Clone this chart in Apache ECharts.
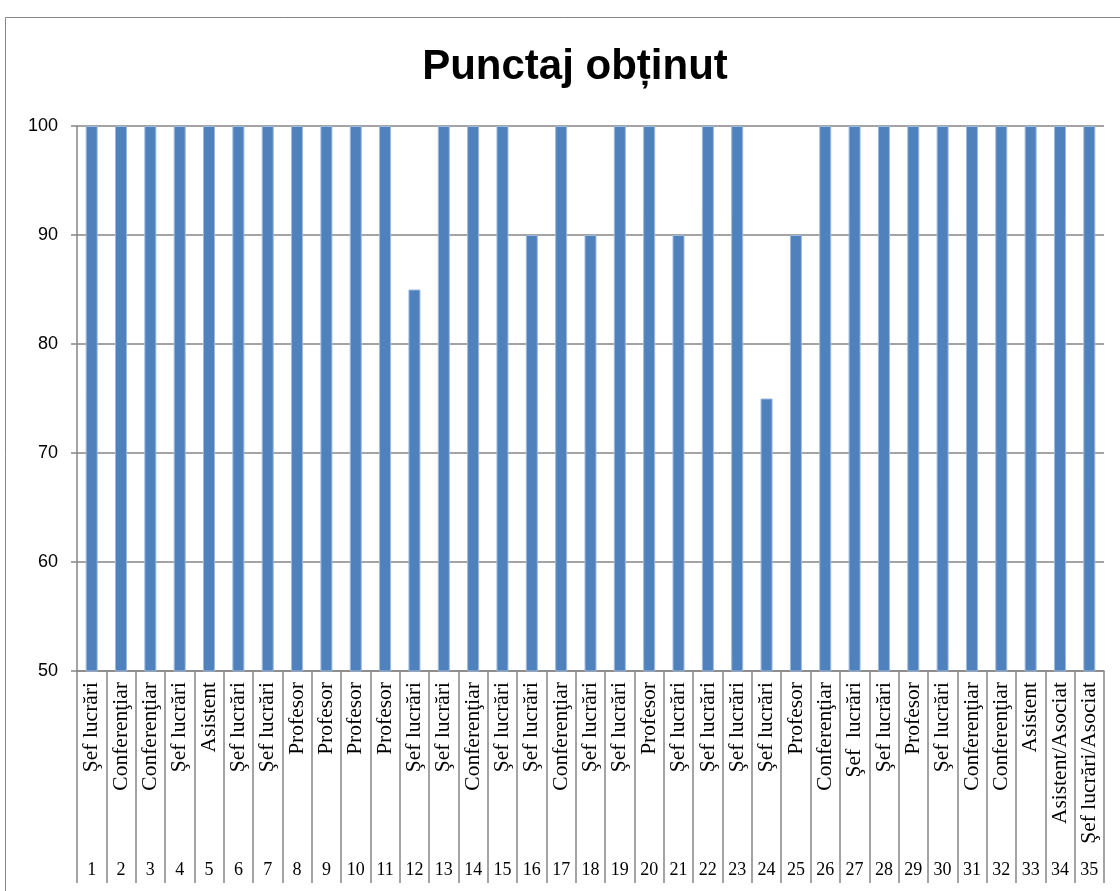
<!DOCTYPE html>
<html>
<head>
<meta charset="utf-8">
<script src="https://cdn.jsdelivr.net/npm/echarts@6/dist/echarts.min.js"></script>
<style>html,body{margin:0;padding:0;background:#fff}#c{width:1120px;height:891px}</style>
</head>
<body>
<div id="c"></div>
<script>
const titleText = 'Punctaj obținut';
const numbers = ['1','2','3','4','5','6','7','8','9','10','11','12','13','14','15','16','17','18','19','20','21','22','23','24','25','26','27','28','29','30','31','32','33','34','35'];
const ranks = ['Şef lucrări','Conferenţiar','Conferenţiar','Şef lucrări','Asistent','Şef lucrări','Şef lucrări','Profesor','Profesor','Profesor','Profesor','Şef lucrări','Şef lucrări','Conferenţiar','Şef lucrări','Şef lucrări','Conferenţiar','Şef lucrări','Şef lucrări','Profesor','Şef lucrări','Şef lucrări','Şef lucrări','Şef lucrări','Profesor','Conferenţiar','Şef  lucrări','Şef lucrări','Profesor','Şef lucrări','Conferenţiar','Conferenţiar','Asistent','Asistent/Asociat','Şef lucrări/Asociat'];
const scores = [100,100,100,100,100,100,100,100,100,100,100,85,100,100,100,90,100,90,100,100,90,100,100,75,90,100,100,100,100,100,100,100,100,100,100];
const yTicks = {min:50, max:100, interval:10};

const grey = '#868686';
const chart = echarts.init(document.getElementById('c'), null, {renderer:'canvas'});
chart.setOption({
  animation:false,
  backgroundColor:'#fff',
  title:{
    text:titleText, left:570, top:41, textAlign:'center',
    textStyle:{fontFamily:'"Liberation Sans",Arial,sans-serif', fontWeight:'bold', fontSize:42, color:'#000'}
  },
  graphic:[{type:'rect', left:3, top:15, shape:{width:1300, height:1000}, style:{fill:null, stroke:grey, lineWidth:1}, silent:true, z:-1}],
  grid:{left:77, right:16, top:126, bottom:220, containLabel:false},
  xAxis:[{
    type:'category', data:ranks, position:'bottom',
    axisLine:{show:true, lineStyle:{color:grey, width:1.5}},
    axisTick:{show:true, interval:0, alignWithLabel:false, length:212, lineStyle:{color:grey, width:1.5}},
    axisLabel:{interval:0, rotate:90, margin:11, fontFamily:'"Liberation Serif","Times New Roman",serif', fontSize:21.5, color:'#000'},
    splitLine:{show:false}
  },{
    type:'category', data:numbers, position:'bottom', offset:182,
    axisLine:{show:false}, axisTick:{show:false},
    axisLabel:{interval:0, margin:8, fontFamily:'"Liberation Serif","Times New Roman",serif', fontSize:18, color:'#000'},
    splitLine:{show:false}
  }],
  yAxis:{
    type:'value', min:yTicks.min, max:yTicks.max, interval:yTicks.interval,
    axisLine:{show:true, lineStyle:{color:grey, width:1.5}},
    axisTick:{show:true, length:6, lineStyle:{color:grey, width:1.5}},
    axisLabel:{margin:19, fontFamily:'"Liberation Sans",Arial,sans-serif', fontSize:18, color:'#000'},
    splitLine:{show:true, lineStyle:{color:grey, width:1.5}}
  },
  series:[{
    type:'bar', data:scores, xAxisIndex:0, barWidth:12,
    itemStyle:{color:'#4F81BD', borderColor:'#9DB9DC', borderWidth:1}
  }]
});
</script>
</body>
</html>
